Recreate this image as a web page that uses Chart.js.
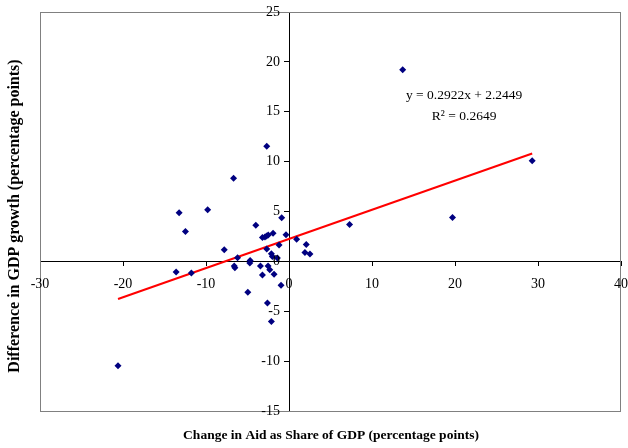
<!DOCTYPE html>
<html>
<head>
<meta charset="utf-8">
<script src="https://cdn.jsdelivr.net/npm/chart.js@4/dist/chart.umd.min.js"></script>
<style>
  html, body { margin: 0; padding: 0; background: #fff; }
  #wrap { width: 628px; height: 448px; }
</style>
</head>
<body>
<div id="wrap"><canvas id="chart"></canvas></div>
<script>
// scatter points
const aidChange = [
  -2.68, -6.68, -13.24, -9.8, -12.48, -0.88, -4.0, -3.2, -2.9, -2.7, -2.5,
  -1.92, -0.36, 0.92, -1.2, -2.68, -7.8, 2.08, 1.92, 2.52, -2.12, -2.0,
  -1.4, -6.2, -4.68, -4.72, -6.6, -6.52, -3.44, -2.52, -2.32, -13.6, -11.76,
  -3.2, -1.8, -0.96, -4.96, -2.6, -2.12,
  13.7, 29.3, 19.7, 7.3, -20.6
];
const growthDiff = [
  11.53, 8.33, 4.87, 5.17, 3.0, 4.37, 3.63, 2.4, 2.45, 2.55, 2.65,
  2.83, 2.67, 2.23, 1.63, 1.23, 1.17, 1.7, 0.9, 0.73, 0.77, 0.5,
  0.33, 0.37, 0.1, -0.17, -0.47, -0.63, -0.47, -0.47, -0.83, -1.07, -1.17,
  -1.37, -1.3, -2.4, -3.1, -4.17, -6.03,
  19.2, 10.1, 4.4, 3.7, -10.47
];

// trend line end points
const trendX = [-20.6, 29.3];
const trendY = [-3.77, 10.81];

const equationLines = ['y = 0.2922x + 2.2449', 'R² = 0.2649'];
const xTitle = 'Change in Aid as Share of GDP (percentage points)';
const yTitle = 'Difference in GDP growth (percentage points)';

const serif = "'Liberation Serif', 'Times New Roman', serif";

const points = aidChange.map((x, i) => ({ x, y: growthDiff[i] }));
const trend = trendX.map((x, i) => ({ x, y: trendY[i] }));

// frame, tick labels, axis titles and the equation
const decorations = {
  id: 'decorations',
  afterDraw(chart) {
    const ctx = chart.ctx;
    const a = chart.chartArea;
    const xs = chart.scales.x, ys = chart.scales.y;
    const x0 = xs.getPixelForValue(0), y0 = ys.getPixelForValue(0);
    ctx.save();
    ctx.strokeStyle = '#808080';
    ctx.lineWidth = 1;
    ctx.strokeRect(a.left + 0.5, a.top + 0.5, a.right - a.left - 1, a.bottom - a.top);

    ctx.fillStyle = '#000';
    ctx.font = '14px ' + serif;
    ctx.textBaseline = 'middle';
    ctx.textAlign = 'right';
    ys.ticks.forEach(t => ctx.fillText(String(t.value), x0 - 9, ys.getPixelForValue(t.value)));
    ctx.textAlign = 'center';
    xs.ticks.forEach(t => ctx.fillText(String(t.value), xs.getPixelForValue(t.value), y0 + 23));

    ctx.font = 'bold 13.5px ' + serif;
    ctx.fillText(xTitle, 331, 436);

    ctx.save();
    ctx.translate(15, 216);
    ctx.rotate(-Math.PI / 2);
    ctx.font = 'bold 16px ' + serif;
    ctx.fillText(yTitle, 0, 0);
    ctx.restore();

    ctx.font = '13.5px ' + serif;
    ctx.fillText(equationLines[0], xs.getPixelForValue(21.1), ys.getPixelForValue(16.65));
    ctx.fillText(equationLines[1], xs.getPixelForValue(21.1), ys.getPixelForValue(14.5));
    ctx.restore();
  }
};

new Chart(document.getElementById('chart'), {
  type: 'scatter',
  data: {
    datasets: [
      {
        label: 'trend',
        type: 'line',
        data: trend,
        borderColor: '#ff0000',
        borderWidth: 2,
        pointRadius: 0,
        fill: false,
        order: 1
      },
      {
        label: 'countries',
        data: points,
        pointStyle: 'rectRot',
        pointRadius: 3.5,
        backgroundColor: '#000080',
        borderColor: '#000080',
        borderWidth: 0,
        order: 0
      }
    ]
  },
  options: {
    responsive: true,
    maintainAspectRatio: false,
    animation: false,
    layout: { padding: { left: 40, top: 12, right: 7, bottom: 37 } },
    plugins: {
      legend: { display: false },
      tooltip: { enabled: false }
    },
    scales: {
      x: {
        type: 'linear',
        position: { y: 0 },
        min: -30,
        max: 40,
        ticks: { stepSize: 10, display: false },
        grid: { display: true, drawOnChartArea: false, drawTicks: true, tickLength: 4, color: '#000' },
        border: { display: true, color: '#000', width: 1 }
      },
      y: {
        type: 'linear',
        position: { x: 0 },
        min: -15,
        max: 25,
        ticks: { stepSize: 5, display: false },
        grid: { display: true, drawOnChartArea: false, drawTicks: true, tickLength: 5, color: '#000' },
        border: { display: true, color: '#000', width: 1 }
      }
    }
  },
  plugins: [decorations]
});
</script>
</body>
</html>
